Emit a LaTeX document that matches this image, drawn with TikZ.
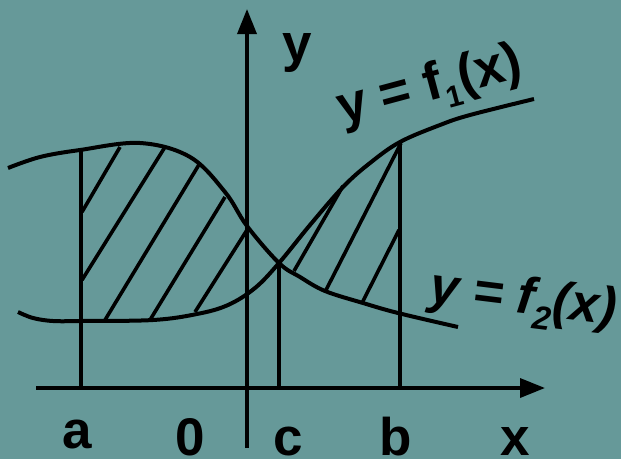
\documentclass[tikz,border=0pt]{standalone}
\usepackage{fontspec}
\setmainfont{Liberation Sans}
\usetikzlibrary{arrows.meta}
\definecolor{bgteal}{RGB}{102,153,153}
\tikzset{
  curve/.style={line width=4pt, black},
  hatch/.style={line width=3.6pt, black},
  vline/.style={line width=3.6pt, black},
  axis/.style={line width=3.5pt, black, -{Triangle[length=25pt,width=19pt]}},
  lbl/.style={font=\fontsize{53}{60}\selectfont\bfseries, inner sep=0pt},
}
\begin{document}
\begin{tikzpicture}[x=1pt,y=-1pt]
\fill[bgteal] (0,0) rectangle (621,459);
\useasboundingbox (0,0) rectangle (621,459);

% axes
\coordinate (xs) at (36,388); \coordinate (xe) at (545,388);
\coordinate (ys) at (247,448); \coordinate (ye) at (247,9);
\draw[axis] (xs) -- (xe);
\draw[axis] (ys) -- (ye);

% curves
\draw[curve] plot[smooth,tension=0.6] coordinates {(8,168) (40,157) (80,150) (140,143) (190,157) (225,192) (247,226) (279,263) (300,277) (325,291) (363,303) (398,313) (458,327)};
\draw[curve] plot[smooth,tension=0.6] coordinates {(18,312) (33,318) (53,321) (81,321) (153,320) (197,314) (228,305) (255,288) (279,263) (310,225) (343,187) (370,163) (400,142) (440,125) (470,115) (534,99)};

% vertical lines
\coordinate (at) at (81,148); \coordinate (ab) at (81,388);
\coordinate (ct) at (279,263); \coordinate (cb) at (279,388);
\coordinate (bt) at (400,141); \coordinate (bb) at (400,388);
\draw[vline] (at) -- (ab);
\draw[vline] (ct) -- (cb);
\draw[vline] (bt) -- (bb);

% hatching left
\foreach \p/\q in {{(82,212)}/{(120,147)}, {(82,280)}/{(165,147)}, {(105,320)}/{(200,163)}, {(150,320)}/{(225,197)}, {(195,312)}/{(247,230)}}
  \draw[hatch] \p -- \q;
% hatching right
\foreach \p/\q in {{(294,271)}/{(343,186)}, {(325,292)}/{(401,143)}, {(362,303)}/{(399,230)}}
  \draw[hatch] \p -- \q;

% labels
\node[lbl] (ylab) at (297,53) {y};
\node[lbl, anchor=base] (la) at (77,448) {a};
\node[lbl, anchor=base] (l0) at (190,455) {0};
\node[lbl, anchor=base] (lc) at (288,455) {c};
\node[lbl, anchor=base] (lb) at (396,455) {b};
\node[lbl, anchor=base] (lx) at (515,455) {x};
\node[lbl, rotate=15, anchor=base west] (f1) at (342,125) {y = f\raisebox{-12pt}{\fontsize{30}{30}\selectfont 1}(x)};
\node[lbl, font=\fontsize{52}{60}\selectfont\bfseries\itshape, rotate=-7, anchor=base west] (f2) at (428,302) {y = f\raisebox{-14pt}{\fontsize{33}{33}\selectfont 2}(x)};
\end{tikzpicture}
\end{document}
